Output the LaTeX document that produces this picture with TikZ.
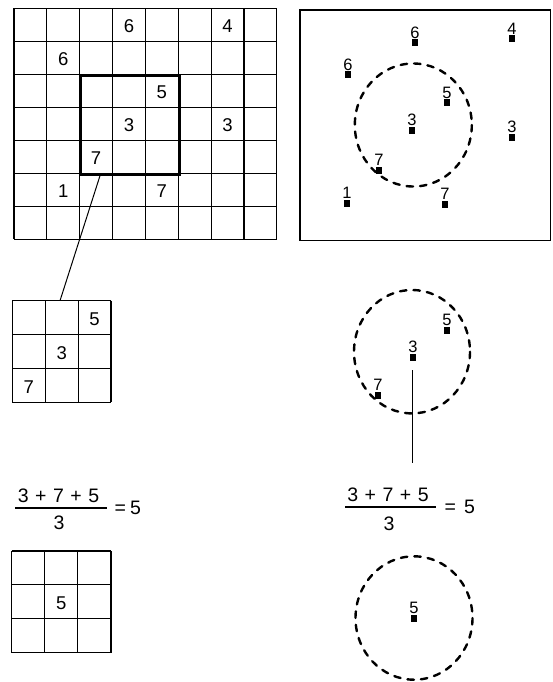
\documentclass[tikz,border=0pt]{standalone}
\usepackage{fontspec}
\setmainfont{Liberation Sans}
\usetikzlibrary{calc}
\newcommand\mygrid[7]{% name, x0, y0, w, h, ncol, nrow
  \foreach \i in {0,...,#6} \draw[gridline] ({#2+#4*\i},#3) -- ({#2+#4*\i},{#3+#5*#7});
  \foreach \j in {0,...,#7} \draw[gridline] (#2,{#3+#5*\j}) -- ({#2+#4*#6},{#3+#5*\j});
}
\newcommand\cellnum[8]{% name, x0, y0, w, h, col, row, text
  \node[num] (#1) at ({#2+#4*(#6+0.5)},{#3+#5*(#7+0.5)+1.5}) {#8};
}
\newcommand\ptmark[4]{% name, x, y, label
  \node[marker] (#1) at (#2,#3) {};
  \node[lab] (#1l) at ([yshift=0.5pt]#1.north) {#4};
}
\newcommand\fracnum{3\hspace{6.5pt}+\hspace{6.5pt}7\hspace{6.5pt}+\hspace{6.5pt}5}
\begin{document}
\begin{tikzpicture}[x=1pt,y=-1pt,
  gridline/.style={line width=1.15pt},
  winbox/.style={line width=2.6pt},
  num/.style={font=\fontsize{18.5}{20}\selectfont, inner sep=0pt},
  lab/.style={font=\fontsize{16.5}{18}\selectfont, inner sep=0pt, anchor=south},
  marker/.style={fill=black, minimum width=5.5pt, minimum height=7pt, inner sep=0pt},
  dcircle/.style={line width=2.4pt, line cap=round, dash pattern=on 6.5pt off 7pt},
  fracfont/.style={font=\fontsize{19.5}{22}\selectfont, inner sep=0pt},
  conn/.style={line width=1pt},
]
\useasboundingbox (0,0) rectangle (552,682);

% ---------- big grid ----------
\mygrid{big}{14}{8.3}{32.85}{33}{8}{7}
\cellnum{b1}{14}{8.3}{32.85}{33}{3}{0}{6}
\cellnum{b2}{14}{8.3}{32.85}{33}{6}{0}{4}
\cellnum{b3}{14}{8.3}{32.85}{33}{1}{1}{6}
\cellnum{b4}{14}{8.3}{32.85}{33}{4}{2}{5}
\cellnum{b5}{14}{8.3}{32.85}{33}{3}{3}{3}
\cellnum{b6}{14}{8.3}{32.85}{33}{6}{3}{3}
\cellnum{b7}{14}{8.3}{32.85}{33}{2}{4}{7}
\cellnum{b8}{14}{8.3}{32.85}{33}{1}{5}{1}
\cellnum{b9}{14}{8.3}{32.85}{33}{4}{5}{7}
\node[winbox, draw, minimum width=98.6pt, minimum height=99pt, inner sep=0pt, anchor=north west] (win) at (79.7,74.3) {};

% ---------- small grid 1 ----------
\mygrid{s1}{12.3}{300.7}{32.9}{33.9}{3}{3}
\cellnum{s1a}{12.3}{300.7}{32.9}{33.9}{2}{0}{5}
\cellnum{s1b}{12.3}{300.7}{32.9}{33.9}{1}{1}{3}
\cellnum{s1c}{12.3}{300.7}{32.9}{33.9}{0}{2}{7}
\coordinate (winfoot) at ($(win.south west)!0.2!(win.south east)$);
\coordinate (s1top) at (60,300.7);
\draw[conn] (winfoot) -- (s1top);

% ---------- left fraction ----------
\node[fracfont] (ln) at (58.5,495.5) {\fracnum};
\node[fracfont] (ld) at (59,522.5) {3};
\node[fracfont, anchor=west] (le) at (114.5,507.5) {=\hspace{4pt}5};
\draw[line width=1.6pt] (15,507.7) -- (107,507.7);

% ---------- small grid 2 ----------
\mygrid{s2}{11.7}{551}{33.1}{33.9}{3}{3}
\cellnum{s2a}{11.7}{551}{33.1}{33.9}{1}{1}{5}

% ---------- right panel ----------
\draw[line width=1.2pt] (300,10) rectangle (550.8,240.7);
\ptmark{r1}{415}{43}{6}
\ptmark{r2}{512}{39}{4}
\ptmark{r3}{348}{75}{6}
\ptmark{r4}{447}{103}{5}
\ptmark{r5}{412}{130}{3}
\ptmark{r6}{512}{137}{3}
\ptmark{r7}{379}{170}{7}
\ptmark{r8}{347}{203}{1}
\ptmark{r9}{445}{204}{7}
\draw[dcircle] (413.3,125) ellipse [x radius=58.5, y radius=61.5];

% ---------- middle right ----------
\ptmark{m1}{447}{330}{5}
\ptmark{m2}{413}{357}{3}
\ptmark{m3}{378}{395}{7}
\draw[dcircle] (412,351.7) ellipse [x radius=58, y radius=61.7];
\coordinate (vtop) at (412,370);
\coordinate (vbot) at (412,463);
\draw[conn] (vtop) -- (vbot);

% ---------- right fraction ----------
\node[fracfont] (rn) at (388,494.5) {\fracnum};
\node[fracfont] (rd) at (389,523.5) {3};
\node[fracfont, anchor=west] (re) at (444.5,507) {=\hspace{8pt}5};
\draw[line width=1.6pt] (345,506.7) -- (436,506.7);

% ---------- bottom right ----------
\ptmark{z1}{414}{618}{5}
\draw[dcircle] (414,618) ellipse [x radius=58.5, y radius=61.7];
\end{tikzpicture}
\end{document}
